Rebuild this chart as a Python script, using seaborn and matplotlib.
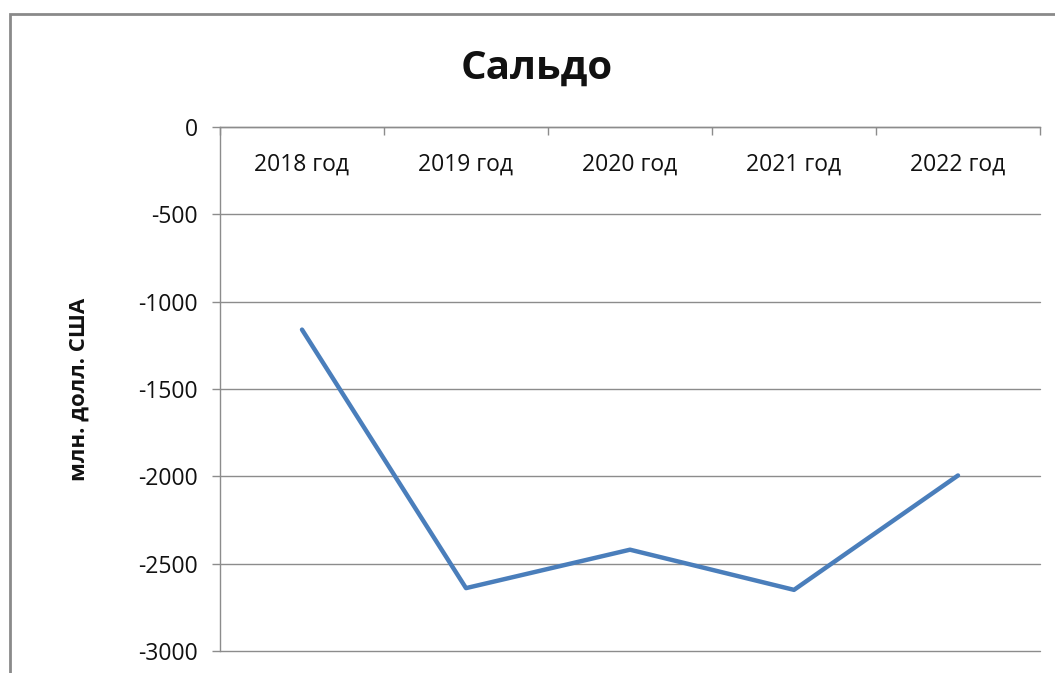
import numpy as np
import matplotlib
matplotlib.use("Agg")
import matplotlib.pyplot as plt
import matplotlib.patches as mpatches
import seaborn as sns

# ── data ─────────────────────────────────────────────────────────────────────
years  = ["2018 год", "2019 год", "2020 год", "2021 год", "2022 год"]
saldo  = [-1160, -2640, -2420, -2650, -1995]
yticks = [0, -500, -1000, -1500, -2000, -2500, -3000]

GRID  = "#8c8c8c"
LINE  = "#4a7ebb"
TEXT  = "#111111"

sns.set_theme(style="white")
plt.rcParams["font.family"] = ["Open Sans", "DejaVu Sans"]

fig = plt.figure(figsize=(10.55, 6.73), dpi=100)
ax = fig.add_axes([220 / 1055, 22 / 673, 820 / 1055, 524 / 673])

sns.lineplot(x=years, y=saldo, ax=ax, color=LINE, linewidth=3.2, sort=False)

ax.set_xlim(-0.5, len(years) - 0.5)
ax.set_ylim(-3000, 0)
ax.set_yticks(yticks)
ax.set_yticklabels([str(v) for v in yticks], fontsize=16.5, color=TEXT)
for v in yticks:
    ax.axhline(v, color=GRID, linewidth=1, zorder=0, clip_on=False)

# category axis sits at the top (value 0), labels inside the plot
ax.xaxis.tick_top()
ax.set_xticks(range(len(years)))
ax.set_xticklabels(years, fontsize=16.5, color=TEXT)
ax.set_xticks(np.arange(-0.5, len(years)), minor=True)
ax.tick_params(axis="x", which="major", length=0, pad=-36)
ax.tick_params(axis="x", which="minor", length=6, width=1, color=GRID,
               direction="in", top=True, bottom=False)
ax.tick_params(axis="y", length=6, width=1, color=GRID, left=True, pad=10)

for side in ["right", "bottom"]:
    ax.spines[side].set_visible(False)
for side in ["left", "top"]:
    ax.spines[side].set_color(GRID)
    ax.spines[side].set_linewidth(1)

ax.set_xlabel("")
ax.set_ylabel("млн. долл. США", fontsize=16, fontweight="bold", color=TEXT, labelpad=35)
fig.suptitle("Сальдо", fontsize=29, fontweight="bold", color=TEXT,
             x=537 / 1055, y=1 - 68 / 673, va="center")

# outer chart frame (cut off on the right and bottom)
frame = mpatches.Rectangle((10 / 1055, -0.1), 1.2, 1 - 14 / 673 + 0.1,
                           transform=fig.transFigure, fill=False,
                           edgecolor="#8a8a8a", linewidth=2, clip_on=False)
fig.patches.append(frame)

plt.savefig("out.png", dpi=100)
plt.close()
